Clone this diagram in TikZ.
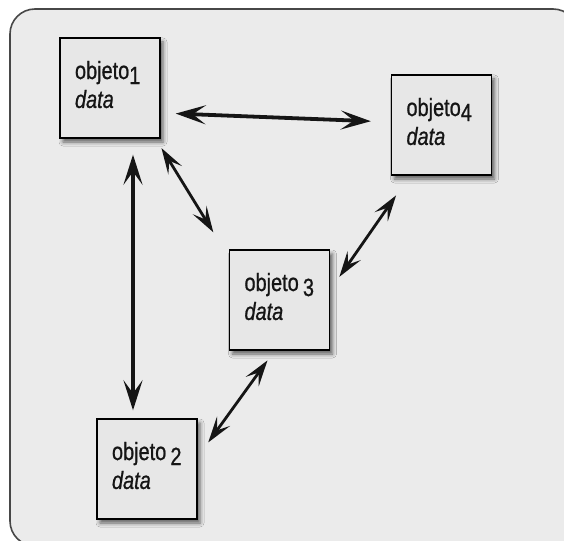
\documentclass[tikz,border=0pt]{standalone}
\usepackage{fontspec}
\setmainfont[FakeStretch=0.8, FakeBold=0.8]{Liberation Sans}
\usetikzlibrary{arrows.meta,shadows.blur}
\definecolor{fondo}{HTML}{EBEBEB}
\definecolor{caja}{HTML}{E7E7E7}
\definecolor{marco}{HTML}{474747}
\definecolor{tinta}{HTML}{151515}
\begin{document}
\begin{tikzpicture}[x=1bp, y=-1bp,
        objeto/.style={rectangle, draw=black, fill=caja, line width=1.4bp,
            minimum height=100bp, inner xsep=15bp, text width=70bp, align=left,
            text depth=36bp, text=tinta,
            font=\fontsize{25}{29}\selectfont,
            blur shadow={shadow xshift=3bp, shadow yshift=-4bp, shadow blur radius=4bp, shadow opacity=60}},
        enlace/.style={<->, tinta, line width=3.8bp, >={Stealth[length=30bp, width=19bp, inset=13bp]}},
        enlacefino/.style={<->, tinta, line width=2.8bp, >={Stealth[length=26bp, width=16bp, inset=11bp]}}
    ]
        \useasboundingbox (0,0) rectangle (564,541);
        \clip (0,0) rectangle (564,541);
        \fill[white] (0,0) rectangle (564,541);

        % Marco redondeado
        \draw[marco, fill=fondo, line width=1.6bp, rounded corners=25bp] (10,9) rectangle (578,546);

        % Objetos
        \node[objeto] (ob1) at (110,88) {objeto\raisebox{-5bp}{1}\\\textit{data}};
        \node[objeto] (ob4) at (441.5,125) {objeto\raisebox{-5bp}{4}\\\textit{data}};
        \node[objeto] (ob3) at (279.5,300) {objeto\,\raisebox{-5bp}{3}\\\textit{data}};
        \node[objeto] (ob2) at (147,469) {objeto\,\raisebox{-5bp}{2}\\\textit{data}};

        % Mensajes entre objetos
        \draw[enlace, shorten <=15bp, shorten >=20bp] ([yshift=-25bp]ob1.east) -- ([yshift=3bp]ob4.west);
        \draw[enlace, shorten <=16bp, shorten >=8bp] ([xshift=23bp]ob1.south) -- ([xshift=-14bp]ob2.north);
        \draw[enlacefino, shorten <=11bp, shorten >=20bp] ([xshift=-5bp]ob1.south east) -- ([xshift=-5bp]ob3.north west);
        \draw[enlacefino, shorten <=16bp, shorten >=24bp] ([yshift=10bp]ob3.east) -- ([xshift=19bp]ob4.south west);
        \draw[enlacefino, shorten <=18bp, shorten >=12bp] ([yshift=12bp]ob2.east) -- ([xshift=-5bp]ob3.south);
    \end{tikzpicture}
\end{document}
